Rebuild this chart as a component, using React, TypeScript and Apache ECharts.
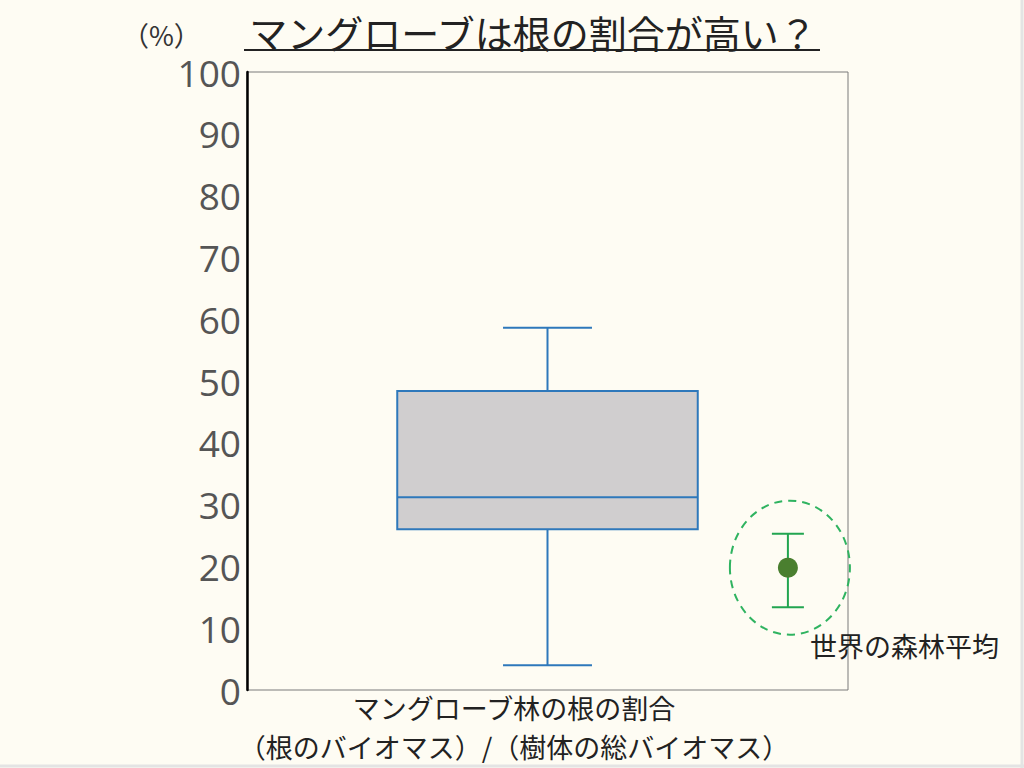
import { useEffect, useRef } from 'react';
import * as echarts from 'echarts';

const title = 'マングローブは根の割合が高い？';
const yUnit = '（%）';
const categories = ['マングローブ林の根の割合'];
const captionSub = '（根のバイオマス）/（樹体の総バイオマス）';
const avgLabel = '世界の森林平均';

// low, q1, median, q3, high (%)
const boxValues = [[4, 26, 31.2, 48.4, 58.6]];
// mean, lower, upper (%)
const forestAvg = [[19.8, 13.4, 25.3]];
const yTicks = [0, 100, 10];

const BG = '#fefcf3';
const CJK = '"Noto Sans CJK JP", "Noto Sans", sans-serif';

export default function App() {
  const chartRef = useRef<HTMLDivElement>(null);

  useEffect(() => {
    if (!chartRef.current) return;
    document.body.style.margin = '0';
    const chart = echarts.init(chartRef.current, null, { renderer: 'svg' });

    const option: echarts.EChartsOption = {
      animation: false,
      backgroundColor: BG,
      grid: {
        left: 247,
        right: 176,
        top: 72,
        bottom: 78,
        show: true,
        borderColor: '#7a7a7a',
        borderWidth: 1,
        backgroundColor: 'transparent',
      },
      xAxis: {
        type: 'value',
        min: 0,
        max: 1,
        axisLine: { show: false },
        axisTick: { show: false },
        axisLabel: { show: false },
        splitLine: { show: false },
      },
      yAxis: {
        type: 'value',
        min: yTicks[0],
        max: yTicks[1],
        interval: yTicks[2],
        axisLine: { show: true, lineStyle: { color: '#000', width: 2.5 } },
        axisTick: { show: false },
        splitLine: { show: false },
        axisLabel: {
          fontSize: 37,
          color: '#555',
          margin: 6,
          fontFamily: '"Open Sans", sans-serif',
        },
      },
      series: [
        {
          type: 'custom',
          name: categories[0],
          data: boxValues.map((d) => [0.5, ...d]),
          encode: { x: 0, y: [1, 2, 3, 4, 5] },
          renderItem: (params: any, api: any) => {
            const x = api.value(0);
            const p = (v: number) => api.coord([x, v]);
            const half = api.size([0.25, 0])[0];
            const cap = api.size([0.074, 0])[0];
            const lo = p(api.value(1));
            const q1 = p(api.value(2));
            const md = p(api.value(3));
            const q3 = p(api.value(4));
            const hi = p(api.value(5));
            const cx = lo[0];
            const ls = { stroke: '#2e78bb', lineWidth: 2 };
            return {
              type: 'group',
              children: [
                { type: 'line', shape: { x1: cx, y1: lo[1], x2: cx, y2: q1[1] }, style: ls },
                { type: 'line', shape: { x1: cx, y1: q3[1], x2: cx, y2: hi[1] }, style: ls },
                { type: 'line', shape: { x1: cx - cap, y1: lo[1], x2: cx + cap, y2: lo[1] }, style: ls },
                { type: 'line', shape: { x1: cx - cap, y1: hi[1], x2: cx + cap, y2: hi[1] }, style: ls },
                {
                  type: 'rect',
                  shape: { x: cx - half, y: q3[1], width: half * 2, height: q1[1] - q3[1] },
                  style: { fill: '#d0cecf', stroke: '#2e78bb', lineWidth: 2 },
                },
                { type: 'line', shape: { x1: cx - half, y1: md[1], x2: cx + half, y2: md[1] }, style: ls },
              ],
            };
          },
        },
        {
          type: 'custom',
          name: avgLabel,
          data: forestAvg.map((d) => [0.9, ...d]),
          encode: { x: 0, y: [1, 2, 3] },
          renderItem: (params: any, api: any) => {
            const x = api.value(0);
            const m = api.coord([x, api.value(1)]);
            const lo = api.coord([x, api.value(2)]);
            const hi = api.coord([x, api.value(3)]);
            const cap = 16;
            const ls = { stroke: '#22a550', lineWidth: 2 };
            return {
              type: 'group',
              children: [
                {
                  type: 'ellipse',
                  shape: { cx: m[0] + 2, cy: m[1], rx: 60, ry: 67 },
                  style: { fill: 'none', stroke: '#2fb360', lineWidth: 2, lineDash: [8, 6] },
                },
                { type: 'line', shape: { x1: m[0], y1: lo[1], x2: m[0], y2: hi[1] }, style: ls },
                { type: 'line', shape: { x1: m[0] - cap, y1: lo[1], x2: m[0] + cap, y2: lo[1] }, style: ls },
                { type: 'line', shape: { x1: m[0] - cap, y1: hi[1], x2: m[0] + cap, y2: hi[1] }, style: ls },
                { type: 'circle', shape: { cx: m[0], cy: m[1], r: 10 }, style: { fill: '#4a7f2f' } },
              ],
            };
          },
        },
      ],
      graphic: [
        {
          type: 'text',
          x: 533,
          y: 31,
          style: {
            text: title,
            fontSize: 38,
            fontFamily: CJK,
            fill: '#222',
            align: 'center',
            verticalAlign: 'middle',
          },
        },
        {
          type: 'line',
          shape: { x1: 244, y1: 50, x2: 820, y2: 50 },
          style: { stroke: '#222', lineWidth: 2 },
        },
        {
          type: 'text',
          x: 122,
          y: 34,
          style: {
            text: yUnit,
            fontSize: 27,
            fontFamily: CJK,
            fill: '#333',
            verticalAlign: 'middle',
          },
        },
        {
          type: 'text',
          x: 810,
          y: 645,
          style: {
            text: avgLabel,
            fontSize: 27,
            fontFamily: CJK,
            fill: '#222',
            verticalAlign: 'middle',
          },
        },
        {
          type: 'text',
          x: 514,
          y: 707,
          style: {
            text: categories[0],
            fontSize: 27,
            fontFamily: CJK,
            fill: '#222',
            align: 'center',
            verticalAlign: 'middle',
          },
        },
        {
          type: 'text',
          x: 514,
          y: 746,
          style: {
            text: captionSub,
            fontSize: 27,
            fontFamily: CJK,
            fill: '#222',
            align: 'center',
            verticalAlign: 'middle',
          },
        },
        {
          type: 'line',
          shape: { x1: 1022, y1: 0, x2: 1022, y2: 768 },
          style: { stroke: '#e4e4e4', lineWidth: 3 },
        },
        {
          type: 'line',
          shape: { x1: 0, y1: 766, x2: 1024, y2: 766 },
          style: { stroke: '#e4e4e4', lineWidth: 3 },
        },
      ],
    };

    chart.setOption(option);
    return () => chart.dispose();
  }, []);

  return <div ref={chartRef} style={{ width: 1024, height: 768 }} />;
}
